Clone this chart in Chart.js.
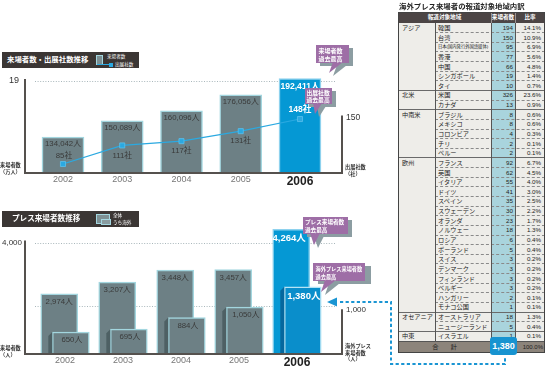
<!DOCTYPE html>
<html><head><meta charset="utf-8">
<script src="https://cdn.jsdelivr.net/npm/chart.js@4.4.1/dist/chart.umd.min.js"></script>
<style>
html,body{margin:0;padding:0;background:#fff;}
body{width:546px;height:366px;position:relative;overflow:hidden;font-family:'Liberation Sans','Noto Sans CJK JP',sans-serif;-webkit-font-smoothing:antialiased;}
canvas{position:absolute;}
.abs{position:absolute;white-space:nowrap;}
.tb{background:#3b3634;}
.tbt{color:#fff;font-weight:bold;}
.ax{font-size:5.2px;line-height:7px;color:#333;font-weight:bold;}
#tbl{opacity:0.995;}
</style></head><body>
<canvas id="c1" width="546" height="200" style="left:0;top:0"></canvas>
<canvas id="c2" width="546" height="176" style="left:0;top:190px"></canvas>

<!-- title bars -->
<div class="abs tb" style="left:2px;top:52px;width:137px;height:16px"></div>
<div class="abs tbt" style="left:7px;top:52px;height:16px;line-height:16px;font-size:7.4px">来場者数・出展社数推移</div>
<div class="abs" style="left:96px;top:55px;width:7px;height:10px;background:#7d9094;border:1px solid #a3d6df;box-sizing:border-box"></div>
<div class="abs" style="left:97px;top:64px;width:16px;height:1px;background:#2ba9e1"></div>
<div class="abs" style="left:109px;top:62.5px;width:4px;height:4px;background:#2ba9e1"></div>
<div class="abs tbt" style="left:107px;top:54px;font-size:4.6px;line-height:5px;font-weight:normal">来場者数</div>
<div class="abs tbt" style="left:115px;top:62px;font-size:4.6px;line-height:5px;font-weight:normal">出展社数</div>

<div class="abs tb" style="left:2px;top:211px;width:137px;height:16px"></div>
<div class="abs tbt" style="left:12px;top:211px;height:16px;line-height:16px;font-size:7.6px">プレス来場者数推移</div>
<div class="abs" style="left:96px;top:214px;width:14px;height:10px;background:#7d9094;border:1px solid #a3d6df;box-sizing:border-box"></div>
<div class="abs" style="left:101px;top:219px;width:10px;height:6px;background:#8a9ca0;border:1px solid #a3d6df;box-sizing:border-box"></div>
<div class="abs tbt" style="left:113px;top:213px;font-size:4.6px;line-height:5px;font-weight:normal">全体</div>
<div class="abs tbt" style="left:113px;top:220px;font-size:4.6px;line-height:5px;font-weight:normal">うち海外</div>

<!-- axis titles -->
<div class="abs ax" style="left:0px;top:162px">来場者数<br>（万人）</div>
<div class="abs ax" style="left:345px;top:164px">出展社数<br>（社）</div>
<div class="abs ax" style="left:0px;top:345px">来場者数<br>（人）</div>
<div class="abs ax" style="left:345px;top:343px;line-height:6.5px">海外プレス<br>来場者数<br>（人）</div>

<!-- table -->
<div class="abs" style="left:399px;top:2px;font-size:7.4px;line-height:9px;font-weight:bold;color:#222">海外プレス来場者の報道対象地域内訳</div>
<div id="tbl" class="abs" style="left:398px;top:12px;width:147px;height:341px"></div>

<svg class="abs" style="left:0;top:0" width="546" height="366">
  <g font-family="'Noto Sans CJK JP',sans-serif" font-weight="bold" fill="#fff">
    <rect x="320" y="48" width="33" height="18" fill="#8c9da2"/>
    <polygon points="337,65 347,65 333,76" fill="#8c9da2"/>
    <polygon points="333,62 343,62 329,73" fill="#9e6ea6"/>
    <rect x="316" y="45" width="33" height="18" fill="#9e6ea6"/>
    <text x="318.5" y="52.5" font-size="6">来場者数</text>
    <text x="318.5" y="60.5" font-size="6">過去最高</text>
    <rect x="309" y="91" width="27" height="16" fill="#8c9da2"/>
    <polygon points="317,106 326,106 319,117" fill="#8c9da2"/>
    <polygon points="313,103 322,103 315,114" fill="#9e6ea6"/>
    <rect x="305" y="88" width="27" height="16" fill="#9e6ea6"/>
    <text x="306.5" y="94.5" font-size="5.8">出展社数</text>
    <text x="306.5" y="102" font-size="5.8">過去最高</text>
    <rect x="307" y="220" width="45" height="17" fill="#8c9da2"/>
    <polygon points="314,236 324,236 318,248" fill="#8c9da2"/>
    <polygon points="310,233 320,233 314,245" fill="#9e6ea6"/>
    <rect x="303" y="217" width="45" height="17" fill="#9e6ea6"/>
    <text x="305" y="224" font-size="5.6">プレス来場者数</text>
    <text x="305" y="231.5" font-size="5.6">過去最高</text>
    <rect x="318" y="266" width="53" height="18" fill="#8c9da2"/>
    <polygon points="329,283 340,283 325,295" fill="#8c9da2"/>
    <polygon points="325,280 336,280 321,292" fill="#9e6ea6"/>
    <rect x="313" y="263" width="52" height="18" fill="#9e6ea6"/>
    <text x="315.5" y="270.5" font-size="5.2">海外プレス来場者数</text>
    <text x="315.5" y="278.5" font-size="5.2">過去最高</text>
  </g>
  <path d="M340,302 H391 V364 H505 V357" fill="none" stroke="#1a95d3" stroke-width="2" stroke-dasharray="3.2,2.4"/>
  <polygon points="327,302 337,297.5 337,306.5" fill="#1a95d3"/>
</svg>

<script>
const years = ['2002','2003','2004','2005','2006'];
const visitors = [134042,150089,160096,176056,192411];
const exhibitors = [85,111,117,131,148];
const pressTotal = [2974,3207,3448,3457,4264];
const pressOverseas = [650,695,884,1050,1380];
const visitorTicks = [190000];
const exhibitorTicks = [150];
const pressTicks = [4000];
const overseasTicks = [1000];

const regionNames = ['アジア','北米','中南米','欧州','オセアニア','中東'];
const regionSizes = [7,2,5,16,2,1];
const countries = ['韓国','台湾','日本(国内発行外国語媒体)','香港','中国','シンガポール','タイ','米国','カナダ','ブラジル','メキシコ','コロンビア','チリ','ペルー','フランス','英国','イタリア','ドイツ','スペイン','スウェーデン','オランダ','ノルウェー','ロシア','ポーランド','スイス','デンマーク','フィンランド','ベルギー','ハンガリー','モナコ公国','オーストラリア','ニュージーランド','イスラエル'];
const countryCounts = [194,150,95,77,66,19,10,326,13,8,8,4,2,2,92,62,55,41,35,30,23,18,6,5,3,3,3,3,2,1,18,5,1];
const countryShares = ['14.1%','10.9%','6.9%','5.6%','4.8%','1.4%','0.7%','23.6%','0.9%','0.6%','0.6%','0.3%','0.1%','0.1%','6.7%','4.5%','4.0%','3.0%','2.5%','2.2%','1.7%','1.3%','0.4%','0.4%','0.2%','0.2%','0.2%','0.2%','0.1%','0.1%','1.3%','0.4%','0.1%'];
const totalShare = '100.0%';

// axis ranges (broken axes in the original, so not from zero)
const R1L = {min:99000, max:211000}, R1R = {min:73.8, max:230.7};
const R2L = {min:1790, max:4450}, R2R = {min:311, max:2456};

const FONT = "'Liberation Sans','Noto Sans CJK JP',sans-serif";
Chart.defaults.font.family = FONT;
const gray = '#6d8085', grayEdge = '#a3d6df', graySide = '#4e6064';
const blue = '#0598d4', blueEdge = '#8ed2ee', blue2 = '#0a8ecb', blueSide = '#06679e';
const axisColor = '#55514e';
const fmt = v => v.toLocaleString('en-US');
const last = years.length - 1;

function text(ctx, s, x, y, size, color, bold) {
  ctx.font = (bold ? 'bold ' : '') + size + 'px ' + FONT;
  ctx.fillStyle = color; ctx.textAlign = 'center'; ctx.textBaseline = 'middle';
  ctx.fillText(s, x, y);
}
function dotted(ctx, a, y) {
  ctx.save(); ctx.strokeStyle = '#a9b7bb'; ctx.lineWidth = 1; ctx.setLineDash([1, 1.6]);
  ctx.beginPath(); ctx.moveTo(a.left + 10, Math.round(y) + 0.5); ctx.lineTo(a.right - 6, Math.round(y) + 0.5); ctx.stroke();
  ctx.restore();
}
function axes(ctx, a, leftTop, rightTop) {
  ctx.save(); ctx.strokeStyle = axisColor; ctx.lineWidth = 2; ctx.lineCap = 'butt';
  ctx.beginPath();
  ctx.moveTo(a.left, leftTop); ctx.lineTo(a.left, a.bottom + 1); ctx.lineTo(a.right + 1, a.bottom + 1);
  ctx.moveTo(a.right, rightTop); ctx.lineTo(a.right, a.bottom + 1);
  ctx.stroke(); ctx.restore();
}
const hidden = {display:false, drawTicks:false};
const noBorder = {display:false};
const xTicks = {
  autoSkip:false, maxRotation:0, padding:2.5,
  callback: v => years[v],
  color: c => c.index === last ? '#222' : '#777',
  font: c => c.index === last ? {size:12, weight:'bold'} : {size:9}
};

const topDeco = {
  id:'topDeco',
  beforeDatasetsDraw(chart) {
    dotted(chart.ctx, chart.chartArea, chart.scales.yL.getPixelForValue(visitorTicks[0]));
  },
  afterDatasetsDraw(chart) {
    const {ctx, chartArea:a, scales} = chart;
    axes(ctx, a, scales.yL.getPixelForValue(visitorTicks[0]) - 2, scales.yR.getPixelForValue(exhibitorTicks[0]) - 2);
    chart.getDatasetMeta(1).data.forEach((b, i) => {
      if (i === last) text(ctx, fmt(visitors[i]) + '人', b.x, b.y + 8, 8.6, '#fff', true);
      else text(ctx, fmt(visitors[i]) + '人', b.x, b.y + 7, 7.8, '#3a3a3a', false);
    });
    chart.getDatasetMeta(0).data.forEach((p, i) => {
      if (i === last) text(ctx, exhibitors[i] + '社', p.x, p.y - 9, 8.6, '#fff', true);
      else if (i === 0) text(ctx, exhibitors[i] + '社', p.x + 1, p.y - 8, 7.8, '#3a3a3a', false);
      else text(ctx, exhibitors[i] + '社', p.x, p.y + 10, 7.8, '#3a3a3a', false);
    });
  }
};

new Chart(document.getElementById('c1'), {
  type:'bar',
  data:{datasets:[
    {type:'line', label:'出展社数', data: exhibitors.map((v, i) => ({x:i, y:v})), xAxisID:'x', yAxisID:'yR',
     borderColor:'#2ba9e1', borderWidth:1.2, tension:0, pointStyle:'rect', pointRadius:3.6,
     pointBackgroundColor:'#2ba9e1', pointBorderColor:'#5cc0ec', pointBorderWidth:0.8, order:0},
    {type:'bar', label:'来場者数', data: visitors.map((v, i) => ({x:i, y:v})), xAxisID:'x', yAxisID:'yL',
     base: R1L.min,
     backgroundColor: years.map((_, i) => i === last ? blue : gray),
     borderColor: years.map((_, i) => i === last ? blueEdge : grayEdge),
     borderWidth:1.5, barThickness:42, grouped:false, order:1}
  ]},
  options:{
    responsive:false, animation:false, events:[],
    layout:{padding:{top:60, left:0, right:0, bottom:0}},
    plugins:{legend:{display:false}, tooltip:{enabled:false}},
    scales:{
      x:{type:'linear', offset:false, min:-0.641, max:4.709, grid:hidden, border:noBorder,
         afterFit: s => { s.height = 28; },
         afterBuildTicks: s => { s.ticks = years.map((_, i) => ({value:i})); },
         ticks: xTicks},
      yL:{type:'linear', position:'left', beginAtZero:false, min:R1L.min, max:R1L.max, grid:hidden, border:noBorder,
          afterFit: s => { s.width = 25; },
          afterBuildTicks: s => { s.ticks = visitorTicks.map(v => ({value:v})); },
          ticks:{padding:6, color:'#333', font:{size:9}, callback: v => String(v / 10000)}},
      yR:{type:'linear', position:'right', beginAtZero:false, min:R1R.min, max:R1R.max, grid:hidden, border:noBorder,
          afterFit: s => { s.width = 204; },
          afterBuildTicks: s => { s.ticks = exhibitorTicks.map(v => ({value:v})); },
          ticks:{padding:4, color:'#333', font:{size:8.5}, callback: v => String(v)}}
    }
  },
  plugins:[topDeco]
});

const shift = 0.1;
const bottomDeco = {
  id:'bottomDeco',
  beforeDatasetsDraw(chart) {
    const {ctx, chartArea:a, scales} = chart;
    dotted(ctx, a, scales.yL.getPixelForValue(pressTicks[0]));
    dotted(ctx, a, scales.yR.getPixelForValue(overseasTicks[0]) - 4);
  },
  afterDatasetsDraw(chart) {
    const {ctx, chartArea:a, scales} = chart;
    const ov = chart.getDatasetMeta(0).data, tot = chart.getDatasetMeta(1).data;
    ov.forEach((b, i) => {
      const l = b.x - b.width / 2;
      ctx.fillStyle = i === last ? blueSide : graySide;
      ctx.beginPath(); ctx.moveTo(l - 4, b.y + 4); ctx.lineTo(l, b.y); ctx.lineTo(l, b.base); ctx.lineTo(l - 4, b.base); ctx.closePath(); ctx.fill();
    });
    axes(ctx, a, scales.yL.getPixelForValue(pressTicks[0]) - 2, scales.yR.getPixelForValue(overseasTicks[0]) - 1);
    tot.forEach((b, i) => {
      if (i === last) text(ctx, fmt(pressTotal[i]) + '人', b.x - 2, b.y + 9, 9.5, '#fff', true);
      else text(ctx, fmt(pressTotal[i]) + '人', b.x, b.y + 8, 7.8, '#3a3a3a', false);
    });
    ov.forEach((b, i) => {
      if (i === last) text(ctx, fmt(pressOverseas[i]) + '人', b.x + 1, b.y + 10, 9.5, '#fff', true);
      else text(ctx, fmt(pressOverseas[i]) + '人', b.x + 1, b.y + 8, 7.8, '#3a3a3a', false);
    });
  }
};

new Chart(document.getElementById('c2'), {
  type:'bar',
  data:{datasets:[
    {label:'うち海外', data: pressOverseas.map((v, i) => ({x:i + shift, y:v})), xAxisID:'x', yAxisID:'yR',
     base: R2R.min,
     backgroundColor: years.map((_, i) => i === last ? blue2 : gray),
     borderColor: years.map((_, i) => i === last ? '#b5e4f5' : grayEdge),
     borderWidth:1.5, barThickness:37, grouped:false, order:0},
    {label:'全体', data: pressTotal.map((v, i) => ({x:i - shift, y:v})), xAxisID:'x', yAxisID:'yL',
     base: R2L.min,
     backgroundColor: years.map((_, i) => i === last ? blue : gray),
     borderColor: years.map((_, i) => i === last ? blueEdge : grayEdge),
     borderWidth:1.5, barThickness:37, grouped:false, order:1}
  ]},
  options:{
    responsive:false, animation:false, events:[],
    layout:{padding:{top:30, left:0, right:0, bottom:0}},
    plugins:{legend:{display:false}, tooltip:{enabled:false}},
    scales:{
      x:{type:'linear', offset:false, min:-0.69, max:4.776, grid:hidden, border:noBorder,
         afterFit: s => { s.height = 13; },
         afterBuildTicks: s => { s.ticks = years.map((_, i) => ({value:i})); },
         ticks: xTicks},
      yL:{type:'linear', position:'left', beginAtZero:false, min:R2L.min, max:R2L.max, grid:hidden, border:noBorder,
          afterFit: s => { s.width = 25; },
          afterBuildTicks: s => { s.ticks = pressTicks.map(v => ({value:v})); },
          ticks:{padding:3, color:'#333', font:{size:8}, callback: v => fmt(v)}},
      yR:{type:'linear', position:'right', beginAtZero:false, min:R2R.min, max:R2R.max, grid:hidden, border:noBorder,
          afterFit: s => { s.width = 204; },
          afterBuildTicks: s => { s.ticks = overseasTicks.map(v => ({value:v})); },
          ticks:{padding:4, color:'#333', font:{size:8}, callback: v => fmt(v)}}
    }
  },
  plugins:[bottomDeco]
});

// ---- table ----
(function(){
  const T = document.getElementById('tbl');
  function box(x, y, w, h, css, t) {
    const d = document.createElement('div');
    d.style.cssText = 'position:absolute;white-space:nowrap;overflow:visible;left:' + x + 'px;top:' + y + 'px;width:' + w + 'px;height:' + h + 'px;' + (css || '');
    if (t != null) d.textContent = t;
    T.appendChild(d); return d;
  }
  const cx = [0, 37, 93, 117, 147];
  const headH = 11, bodyH = 318, totH = 12;
  const n = countries.length, rh = bodyH / n;
  box(0, 0, 147, 341, 'background:#eeede9');
  box(cx[2], headH, cx[3] - cx[2], bodyH, 'background:#a9d4dd');
  box(0, 0, 147, headH, 'background:#4c4545');
  box(0, headH + bodyH, 147, totH, 'background:#8c847b');
  const hs = 'color:#fff;font-weight:bold;font-size:5.6px;text-align:center;line-height:' + headH + 'px;';
  box(0, 0, cx[2], headH, hs, '報道対象地域');
  box(cx[2], 0, cx[3] - cx[2], headH, hs, '来場者数');
  box(cx[3], 0, cx[4] - cx[3], headH, hs, '比率');
  let starts = {}; let acc = 0;
  regionSizes.forEach((s, g) => { starts[acc] = g; acc += s; });
  const ts = 'color:#222;font-size:6.2px;line-height:' + rh + 'px;';
  for (let r = 0; r < n; r++) {
    const y = headH + r * rh;
    if (r > 0) {
      if (starts[r] !== undefined) box(0, y - 0.5, 147, 1, 'background:#6a6a6a');
      else box(cx[1], y - 0.5, 147 - cx[1], 0, 'border-top:1px dashed #8a8a8a');
    }
    if (starts[r] !== undefined) box(4, y, cx[1] - 4, rh, ts, regionNames[starts[r]]);
    const cs = countries[r].length > 9 ? 'color:#222;font-size:4.3px;line-height:' + rh + 'px;' : ts;
    box(cx[1] + 3, y, cx[2] - cx[1] - 3, rh, cs, countries[r]);
    box(cx[2], y, cx[3] - cx[2] - 2, rh, ts + 'text-align:right;', String(countryCounts[r]));
    box(cx[3], y, cx[4] - cx[3] - 4, rh, ts + 'text-align:right;', countryShares[r]);
  }
  box(cx[1] - 0.5, headH, 1, bodyH, 'background:#555');
  box(cx[2] - 0.5, 0, 1, headH, 'background:#9a9494');
  box(cx[3] - 0.5, 0, 1, headH, 'background:#9a9494');
  box(cx[2] - 0.5, headH, 1, bodyH + totH, 'background:#555');
  box(cx[3] - 0.5, headH, 1, bodyH + totH, 'background:#555');
  box(0, headH + bodyH - 0.5, 147, 1, 'background:#555');
  box(0, 0, 147, 341, 'border:1px solid #444;box-sizing:border-box');
  const ty = headH + bodyH;
  box(0, ty, cx[2], totH, 'color:#222;font-size:6.2px;text-align:center;line-height:' + totH + 'px;', '合　　計');
  box(cx[3], ty, cx[4] - cx[3] - 2, totH, 'color:#222;font-size:6px;text-align:right;line-height:' + totH + 'px;', totalShare);
  const total = countryCounts.reduce((a, b) => a + b, 0);
  box(cx[2] - 1, ty - 4, 27, 18, 'background:#1793d0;border-radius:3px;color:#fff;font-weight:bold;font-size:9px;text-align:center;line-height:18px;', fmt(total));
})();
</script>
</body></html>
